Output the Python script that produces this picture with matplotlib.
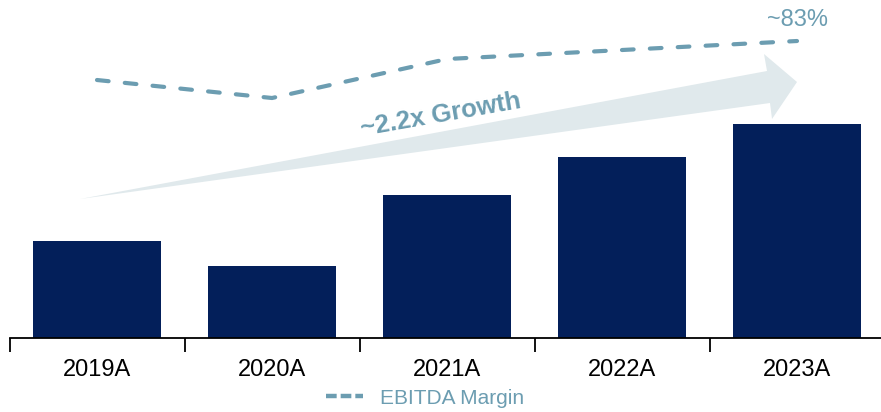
import numpy as np
import matplotlib
matplotlib.use("Agg")
import matplotlib.pyplot as plt
from matplotlib.patches import Polygon
from matplotlib.lines import Line2D

plt.rcParams['font.family'] = ['Liberation Sans', 'DejaVu Sans']

# data
years = ['2019A', '2020A', '2021A', '2022A', '2023A']
revenue = [97, 72, 143, 181, 214]
ebitda_margin = [70, 64, 77, 80, 83]

navy = '#031f5a'
teal = '#6c9db1'
pale = '#e0e9ec'

W, H = 881, 412
fig = plt.figure(figsize=(W / 100, H / 100), dpi=100)

# axes run from the left tick (x=9.5px) past the right edge, baseline at y=338px
ax = fig.add_axes([9.5 / W, (H - 338) / H, 875 / W, 338 / H])
x = np.arange(len(years))

# growth arrow (pixel coords of the outline)
arrow_px = [(80, 199), (767, 71), (764, 54), (797, 82), (772, 119), (770, 103)]
arrow = Polygon([(px / W, 1 - py / H) for px, py in arrow_px],
                closed=True, facecolor=pale, edgecolor='none',
                transform=fig.transFigure, zorder=0)
fig.patches.append(arrow)

ax.bar(x, revenue, width=0.726, color=navy, zorder=2)
ax.set_xlim(-0.5, 4.5)
ax.set_ylim(0, 338)

# margin line on its own scale
ax2 = ax.twinx()
ax2.set_ylim(-16, 96.67)
ax2.plot(x, ebitda_margin, color=teal, lw=3, dashes=(2.8, 3.9),
         dash_capstyle='round', zorder=3)
ax2.axis('off')

for a in (ax, ax2):
    a.patch.set_visible(False)
for s in ['top', 'left', 'right']:
    ax.spines[s].set_visible(False)
ax.spines['bottom'].set_linewidth(1.3)
ax.spines['bottom'].set_color('black')

ax.set_yticks([])
ax.set_xticks(x)
ax.set_xticklabels(years, fontsize=17)
ax.tick_params(axis='x', which='major', length=0, pad=15)
ax.set_xticks(np.arange(-0.5, 5, 1), minor=True)
ax.tick_params(axis='x', which='minor', length=10, width=1.3, direction='out', color='black')

fig.text(441 / W, 1 - 115 / H, '~2.2x Growth', color=teal, fontsize=18.5,
         fontweight='bold', rotation=10, ha='center', va='center',
         rotation_mode='anchor')
fig.text(797 / W, 1 - 20 / H, '~83%', color=teal, fontsize=17,
         ha='center', va='center')

handle = Line2D([], [], color=teal, lw=3.2, dashes=(2.4, 0.9),
                dash_capstyle='butt')
leg = fig.legend([handle], ['EBITDA Margin'], loc='center',
                 bbox_to_anchor=(425 / W, 1 - 398 / H), frameon=False,
                 fontsize=15, handlelength=1.8, handletextpad=0.8)
for t in leg.get_texts():
    t.set_color(teal)

fig.savefig('out.png', dpi=100)
